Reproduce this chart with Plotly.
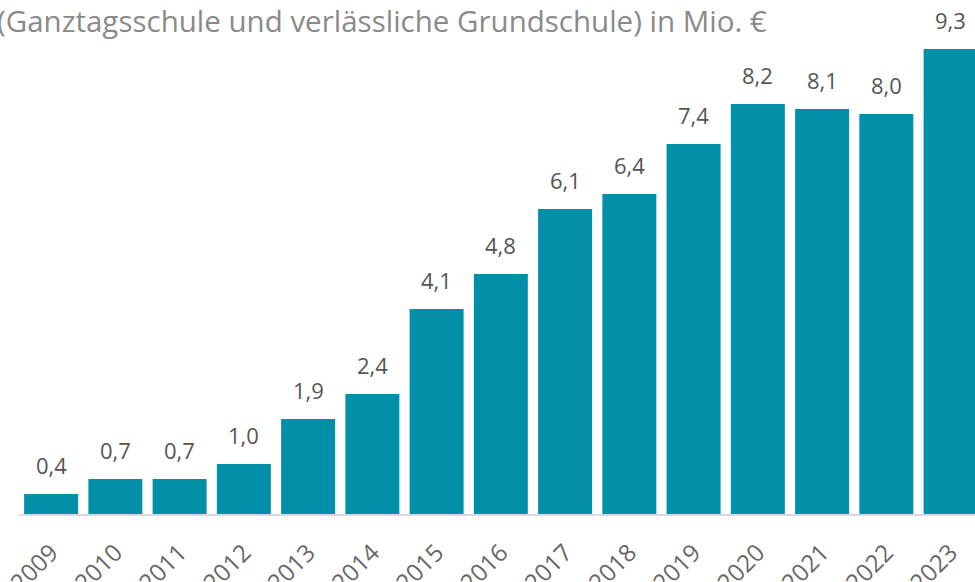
import plotly.graph_objects as go

years = ["2009", "2010", "2011", "2012", "2013", "2014", "2015", "2016",
         "2017", "2018", "2019", "2020", "2021", "2022", "2023"]
values = [0.4, 0.7, 0.7, 1.0, 1.9, 2.4, 4.1, 4.8, 6.1, 6.4, 7.4, 8.2, 8.1, 8.0, 9.3]
labels = ["0,4", "0,7", "0,7", "1,0", "1,9", "2,4", "4,1", "4,8",
          "6,1", "6,4", "7,4", "8,2", "8,1", "8,0", "9,3"]
title_text = "(Ganztagsschule und verlässliche Grundschule) in Mio. €"

FONT = "Open Sans"
fig = go.Figure()
fig.add_trace(go.Bar(
    x=years, y=values,
    marker=dict(color="#028FA8", line=dict(width=0)),
    hoverinfo="skip",
))

for i, (v, lab) in enumerate(zip(values, labels)):
    fig.add_annotation(x=i, y=v, xref="x", yref="y", text=lab, showarrow=False,
                       yanchor="bottom", yshift=12,
                       font=dict(family=FONT, size=22, color="#555555"))

fig.add_annotation(xref="paper", yref="paper", x=0, y=1, text=title_text,
                   showarrow=False, xanchor="left", yanchor="top",
                   xshift=-24, yshift=2,
                   font=dict(family=FONT, size=29.5, color="#8a8a8a"))

fig.update_layout(
    width=975, height=582,
    margin=dict(l=19, r=0, t=0, b=68, autoexpand=False),
    paper_bgcolor="white", plot_bgcolor="white",
    bargap=0.16,
    showlegend=False,
    hovermode=False,
    xaxis=dict(
        type="category",
        range=[-0.5, 14.38],
        automargin=False,
        showgrid=False, zeroline=False,
        showline=True, linecolor="#d9d9d9", linewidth=2,
        tickangle=-45,
        tickfont=dict(family=FONT, size=24, color="#666666"),
        ticks="", ticklabelstandoff=13,
    ),
    yaxis=dict(
        range=[0, 10.28], visible=False, showgrid=False, zeroline=False,
        automargin=False,
    ),
)

fig.write_html("out.html", config={"displayModeBar": False},
               post_script="document.body.style.margin='0';document.body.style.overflow='hidden';")
